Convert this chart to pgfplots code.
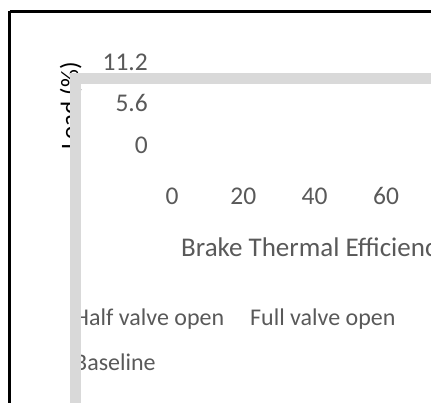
\documentclass[border=0pt]{standalone}
\usepackage{fontspec}
\setmainfont{Carlito}
\usepackage{pgfplots}
\pgfplotsset{compat=1.18}
\definecolor{txt}{HTML}{595959}
\definecolor{barc}{HTML}{D9D9D9}
\newcommand{\tickfont}{\fontsize{25.5}{30}\selectfont}
\begin{document}
\begin{tikzpicture}
\useasboundingbox (0pt,0pt) rectangle (431pt,403pt);
\clip (0pt,0pt) rectangle (431pt,403pt);
% outer frame
\draw[line width=2.5pt] (9.7pt,391.7pt) -- (500pt,391.7pt);
\draw[line width=2.5pt] (9.7pt,391.7pt) -- (9.7pt,-50pt);
\begin{axis}[
  at={(172pt,257pt)}, anchor=south west,
  scale only axis, width=214pt, height=83pt,
  xmin=0, xmax=60, ymin=0, ymax=11.2,
  xtick={0,20,40,60}, ytick={0,5.6,11.2},
  xticklabels={0,20,40,60},
  yticklabels={0,5.6,11.2},
  axis line style={draw=none}, tick style={draw=none},
  major tick length=0pt,
  ticklabel style={font=\tickfont},
  xticklabel style={anchor=base, inner sep=0pt, yshift=-59pt, text=txt},
  yticklabel style={anchor=base east, inner sep=0pt, xshift=-24pt, yshift=-7.5pt, text=txt},
  clip=false,
]
\end{axis}
% axis titles
\node[anchor=base west, inner sep=0pt, font=\fontsize{27}{32}\selectfont, text=txt] at (181pt,146pt) {Brake Thermal Efficiency (\%)};
\node[rotate=90, anchor=base west, inner sep=0pt, font=\fontsize{25}{30}\selectfont, text=black] at (78pt,253pt) {Load (\%)};
% legend
\node[anchor=base west, inner sep=0pt, font=\fontsize{24}{28}\selectfont, text=txt] at (74pt,77pt) {Half valve open};
\node[anchor=base west, inner sep=0pt, font=\fontsize{24}{28}\selectfont, text=txt] at (250pt,77pt) {Full valve open};
\node[anchor=base west, inner sep=0pt, font=\fontsize{24}{28}\selectfont, text=txt] at (74pt,32pt) {Baseline};
% grey bars over the text
\fill[barc] (70pt,330pt) rectangle (81pt,-10pt);
\fill[barc] (70pt,330pt) rectangle (440pt,319pt);
\end{tikzpicture}
\end{document}
